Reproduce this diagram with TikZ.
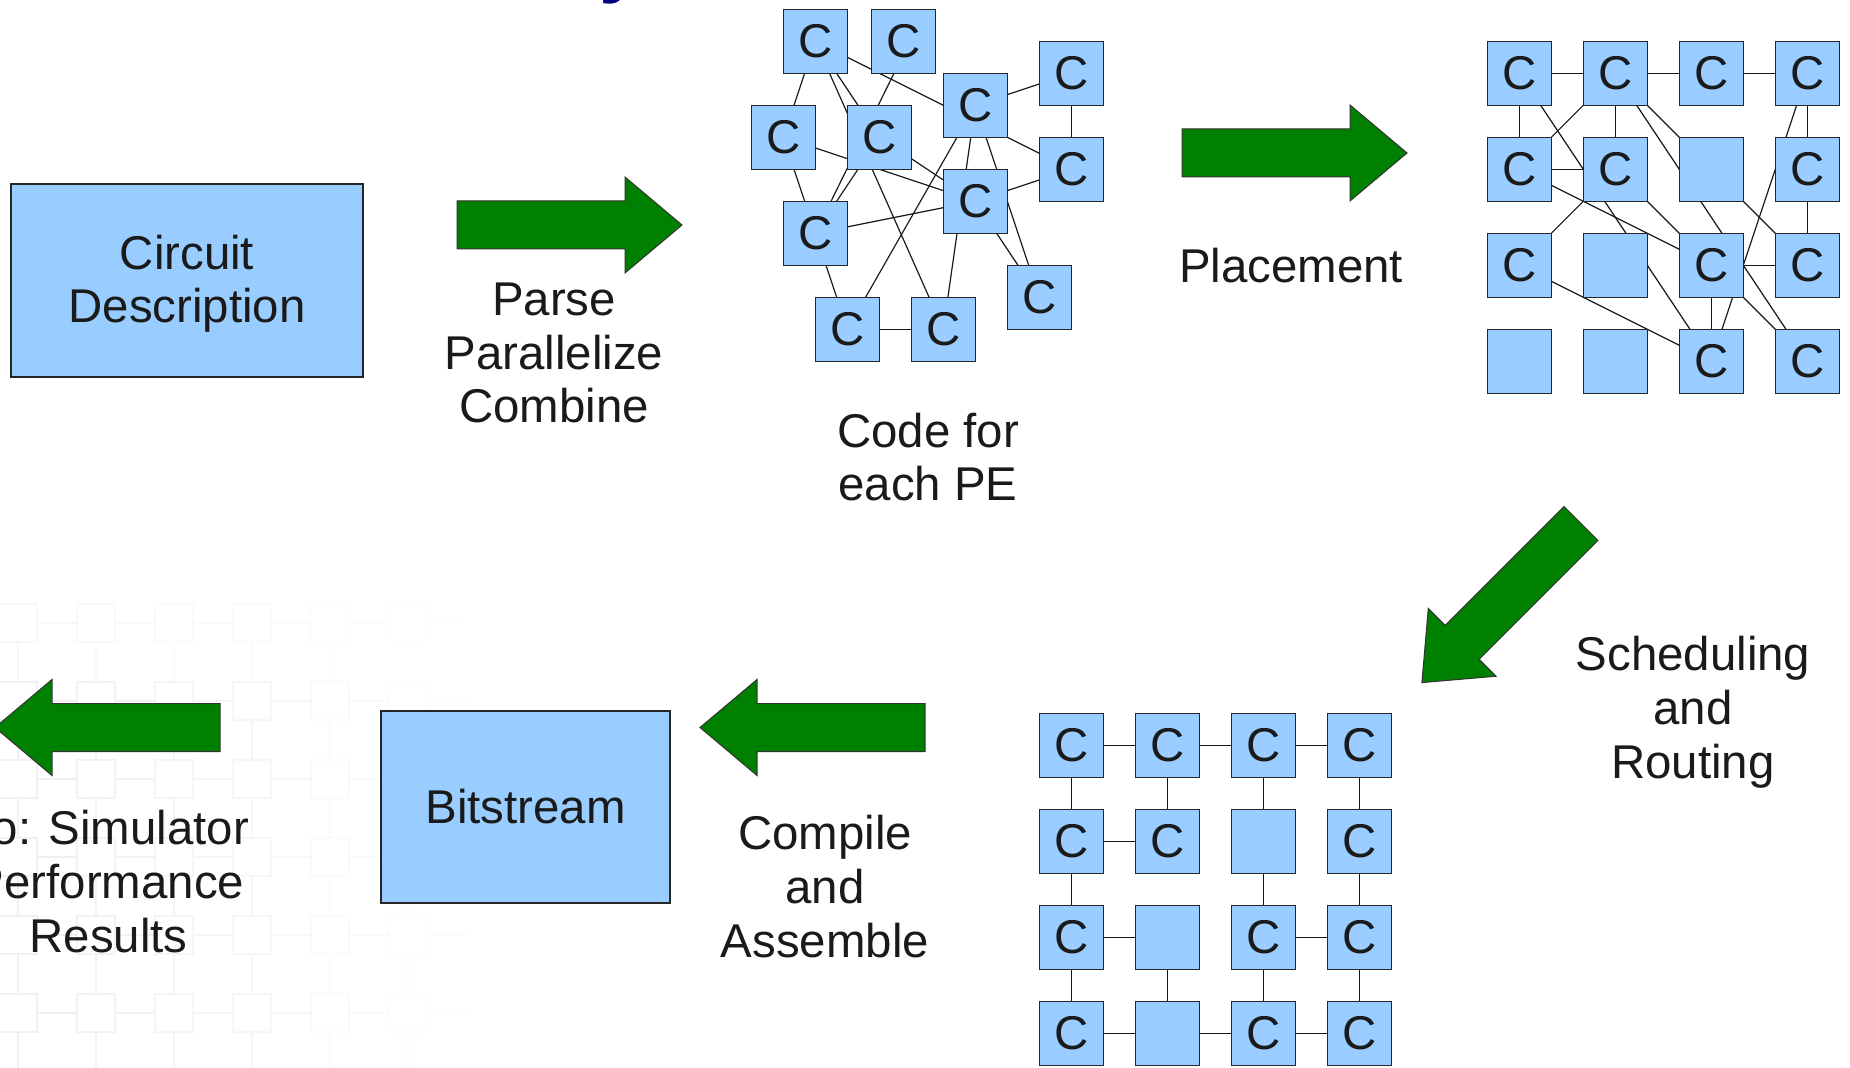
\documentclass[tikz,border=0pt]{standalone}
\usepackage{fontspec}
\setmainfont{Liberation Sans}
\usetikzlibrary{backgrounds,calc}
\definecolor{boxblue}{RGB}{153,204,255}
\definecolor{arrowgreen}{RGB}{0,128,0}
\definecolor{inkgray}{RGB}{26,26,26}
\definecolor{titleblue}{RGB}{0,0,128}
\begin{document}
\begin{tikzpicture}[x=0.5pt,y=-0.5pt,
  txt/.style={font=\fontsize{23.7pt}{26.8pt}\selectfont, text=inkgray, inner sep=0pt, align=center},
  pe/.style={rectangle, draw=black!85, line width=0.65pt, fill=boxblue, minimum size=32pt, inner sep=0pt, txt},
  bigbox/.style={rectangle, draw=black!85, line width=0.65pt, fill=boxblue, inner sep=0pt},
  wire/.style={draw=black!90, line width=0.6pt},
  flow/.style={fill=arrowgreen, draw=black!80, line width=0.5pt, line join=miter},
  bigarrow/.pic={\path[flow] (0,-24) -- (168,-24) -- (168,-48) -- (225,0) -- (168,48) -- (168,24) -- (0,24) -- cycle;}
]
\useasboundingbox (0,0) rectangle (1850,1068);
\clip (0,0) rectangle (1850,1068);

% faint backdrop lattice, lower left
\foreach \i in {0,...,5}
  \foreach \j in {0,...,5} {
    \pgfmathsetmacro\op{(1-\i/6)*(\j==0?0.5:1)}
    \pgfmathsetmacro\cx{18+78*\i}
    \pgfmathsetmacro\cy{623+78*\j}
    \draw[black!6, line width=0.9pt, opacity=\op]
      (\cx-19,\cy-19) rectangle (\cx+19,\cy+19)
      (\cx+19,\cy) -- (\cx+59,\cy)
      (\cx,\cy+19) -- (\cx,\cy+59);
  }

% title fragment
\node[font=\fontsize{40pt}{48pt}\selectfont\bfseries, text=titleblue, anchor=base, inner sep=0pt] (title) at (622,-12) {y};

% source and result boxes
\node[bigbox, minimum width=176pt, minimum height=96.5pt] (circuit) at (187,280.5) {};
\node[txt, anchor=base] (circuittext) at ($(circuit.center)+(0,42.5)$) {Circuit\\Description};
\node[bigbox, minimum width=144.5pt, minimum height=96pt] (bits) at (525.5,807) {};
\node[txt, anchor=base] (bitstext) at ($(bits.center)+(0,16)$) {Bitstream};

% code blocks for each PE
\node[pe] (A) at (815.3,41.3) {C};
\node[pe] (B) at (903.7,41.3) {C};
\node[pe] (D) at (975.3,105.3) {C};
\node[pe] (E) at (1071.3,73.3) {C};
\node[pe] (F) at (783.3,137.3) {C};
\node[pe] (G) at (879.3,137.3) {C};
\node[pe] (H) at (1071.3,169.3) {C};
\node[pe] (I) at (975.3,201.3) {C};
\node[pe] (J) at (815.3,233.3) {C};
\node[pe] (K) at (1039.3,297.3) {C};
\node[pe] (L) at (847.3,329.3) {C};
\node[pe] (M) at (943.3,329.3) {C};

% placed array
\foreach \r/\c/\t in {1/1/C,1/2/C,1/3/C,1/4/C,
                      2/1/C,2/2/C,2/3/{},2/4/C,
                      3/1/C,3/2/{},3/3/C,3/4/C,
                      4/1/{},4/2/{},4/3/C,4/4/C}
  \node[pe] (g\r\c) at ({1423.3+96*\c},{-22.7+96*\r}) {\t};

% routed array
\foreach \r/\c/\t in {1/1/C,1/2/C,1/3/C,1/4/C,
                      2/1/C,2/2/C,2/3/{},2/4/C,
                      3/1/C,3/2/{},3/3/C,3/4/C,
                      4/1/C,4/2/{},4/3/C,4/4/C}
  \node[pe] (h\r\c) at ({975.3+96*\c},{649.3+96*\r}) {\t};

% links, drawn beneath the blocks
\begin{pgfonlayer}{background}
  \foreach \a/\b in {A/F,A/G,A/M,A/H,G/J,F/I,G/I,F/J,J/I,J/L,L/M,D/L,D/M,D/K,D/E,E/H,I/H,I/K}
    \draw[wire] (\a.center) -- (\b.center);
  \draw[wire] ($(B.center)+(6,0)$) -- (J.center);
  \foreach \a/\b in {11/12,12/13,13/14,11/21,12/22,14/24,21/22,24/34,33/34,33/43,
                     11/43,12/21,22/31,12/44,12/34,14/43,21/33,22/33,31/43,33/44}
    \draw[wire] (g\a.center) -- (g\b.center);
  \foreach \a/\b in {11/12,12/13,13/14,11/21,12/22,13/23,14/24,21/22,21/31,23/33,
                     24/34,31/32,33/34,31/41,32/42,33/43,34/44,41/42,42/43,43/44}
    \draw[wire] (h\a.center) -- (h\b.center);
\end{pgfonlayer}

% flow arrows
\pic at (457,225) {bigarrow};
\pic at (1182,153) {bigarrow};
\pic[rotate=225] at (1581,523.5) {bigarrow};
\pic[rotate=180] at (925,727.5) {bigarrow};
\pic[rotate=180] at (220,727.5) {bigarrow};

% step labels (anchored on the baseline of their last line)
\node[txt, anchor=base] (parse) at (554,423) {Parse\\Parallelize\\Combine};
\node[txt, anchor=base] (code) at (928,501) {Code for\\each PE};
\node[txt, anchor=base] (place) at (1291,283) {Placement};
\node[txt, anchor=base] (sched) at (1693,778) {Scheduling\\and\\Routing};
\node[txt, anchor=base] (comp) at (825,957) {Compile\\and\\Assemble};
\node[txt, anchor=base] (sim) at (108.5,952) {To: Simulator\\Performance\\Results};
\end{tikzpicture}
\end{document}
